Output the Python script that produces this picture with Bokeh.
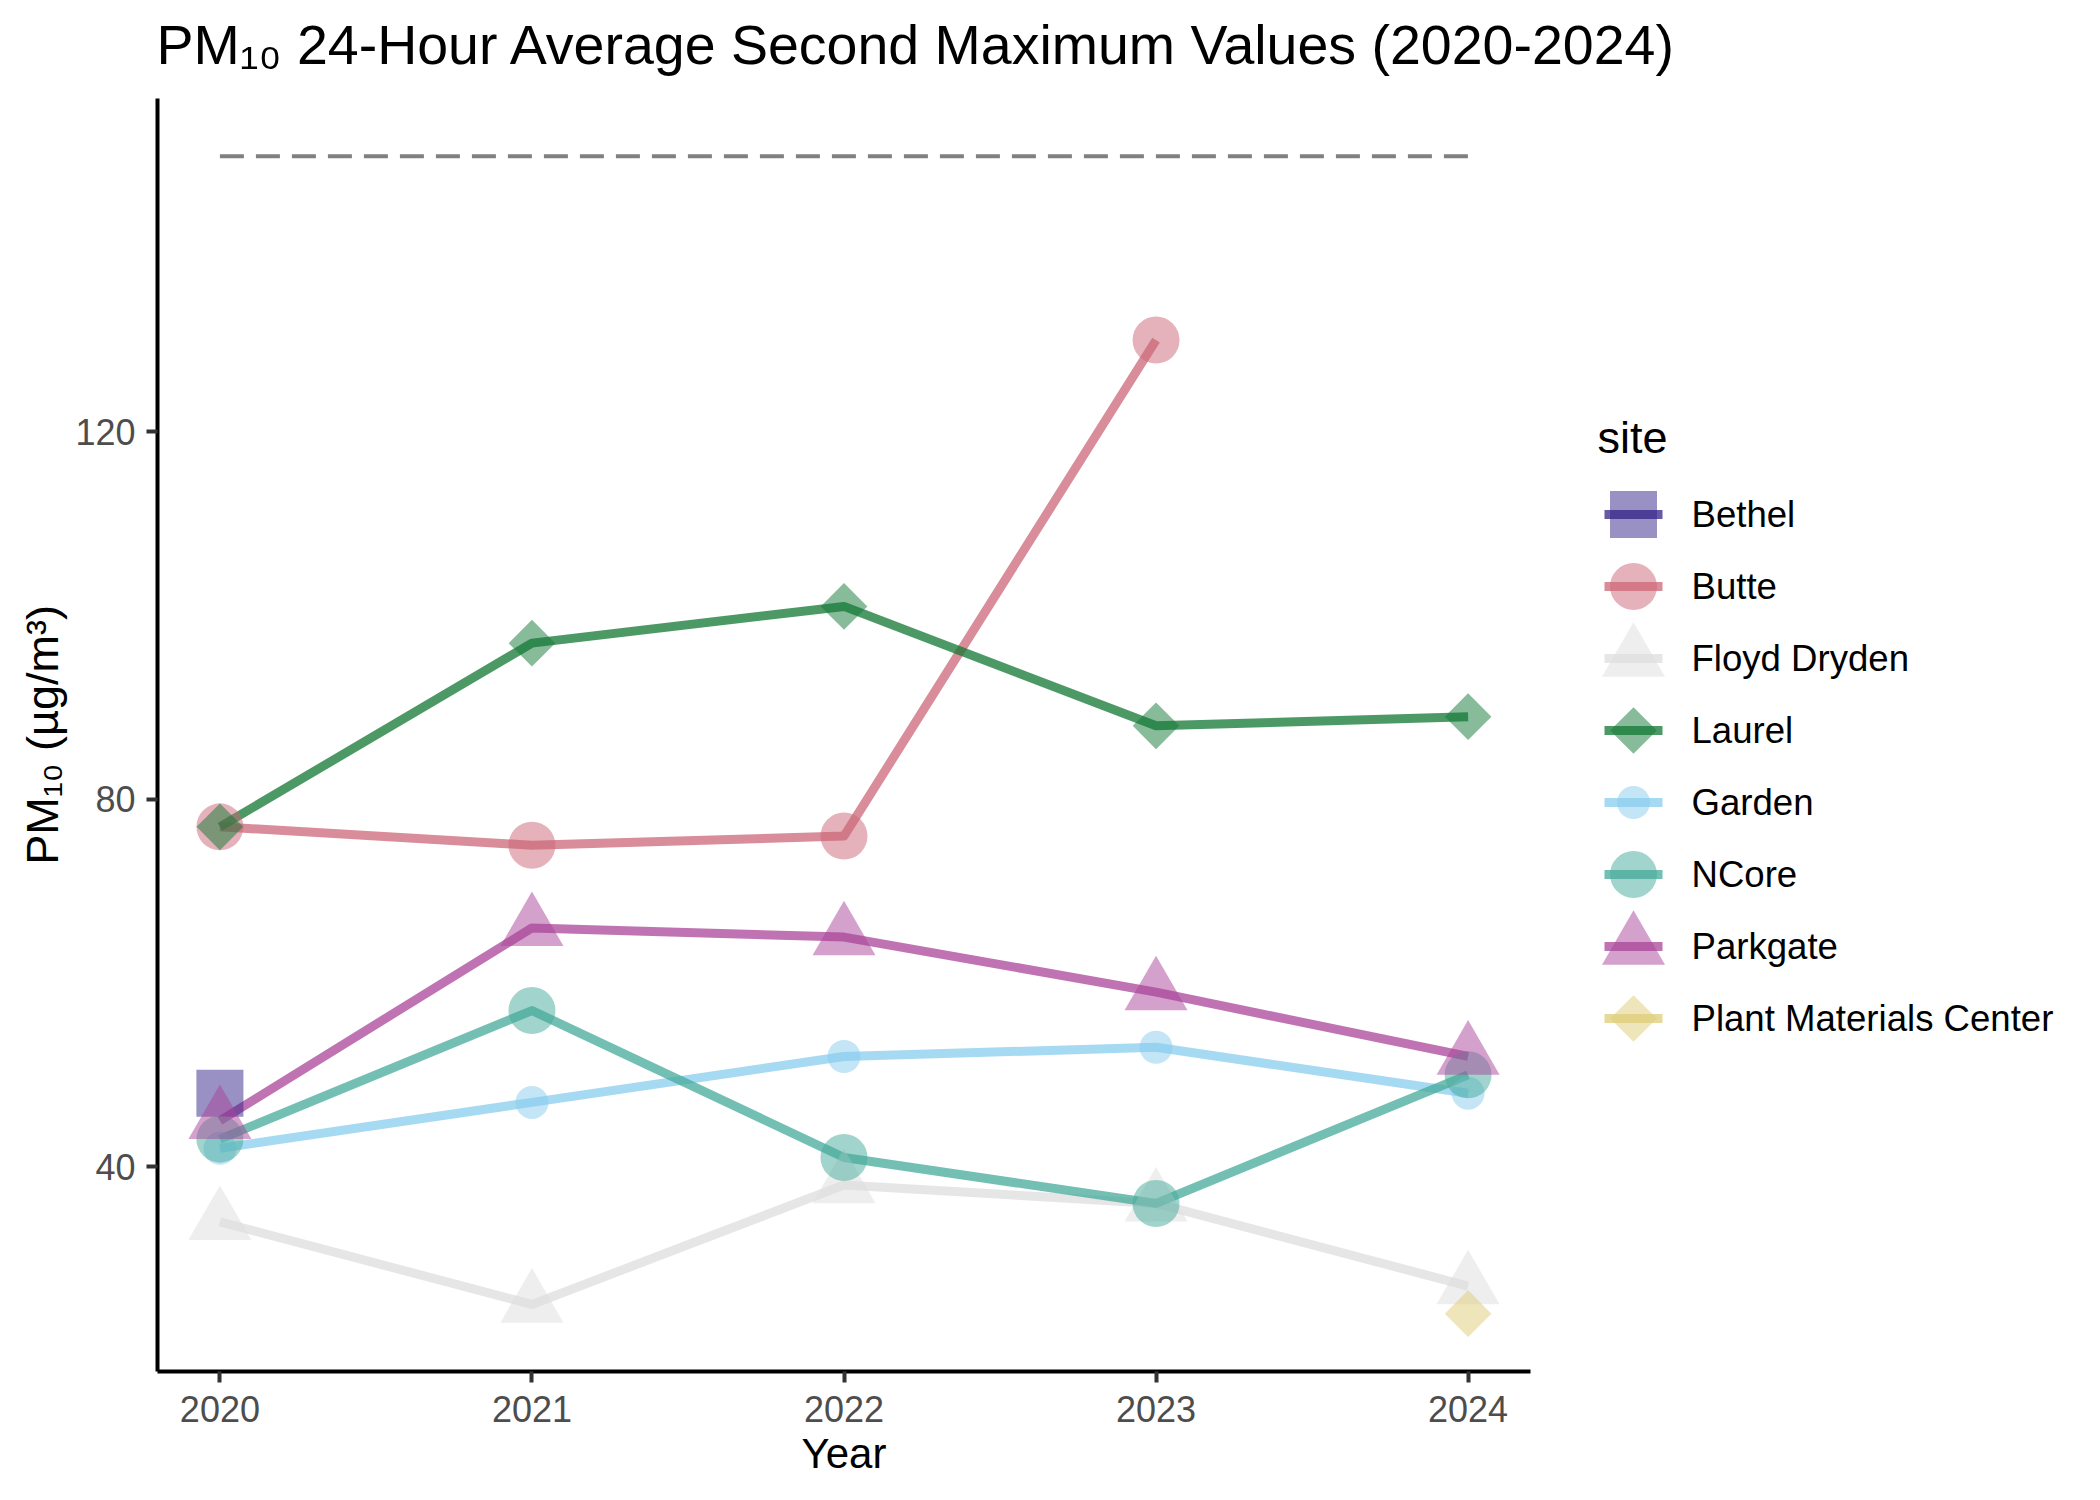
import math
from bokeh.plotting import figure
from bokeh.models import Range1d, FixedTicker, ColumnDataSource, Label
from bokeh.layouts import row, column
from bokeh.embed import file_html
from bokeh.resources import INLINE
from bokeh.core.properties import value

# ---------------- data ----------------
years = [2020, 2021, 2022, 2023, 2024]
sites = ["Bethel", "Butte", "Floyd Dryden", "Laurel", "Garden", "NCore",
         "Parkgate", "Plant Materials Center"]
NA = float("nan")
bethel = [48, NA, NA, NA, NA]
butte = [77, 75, 76, 130, NA]
floyd_dryden = [34, 25, 38, 36, 27]
laurel = [77, 97, 101, 88, 89]
garden = [42, 47, 52, 53, 48]
ncore = [43, 57, 41, 36, 50]
parkgate = [45, 66, 65, 59, 52]
plant_materials_center = [NA, NA, NA, NA, 24]
standard = 150  # 24-hour PM10 standard (dashed line)
y_ticks = [40, 80, 120]

series = {
    "Bethel": bethel, "Butte": butte, "Floyd Dryden": floyd_dryden,
    "Laurel": laurel, "Garden": garden, "NCore": ncore,
    "Parkgate": parkgate, "Plant Materials Center": plant_materials_center,
}

# ---------------- styles ----------------
colors = {
    "Bethel": "#332288", "Butte": "#CC6677", "Floyd Dryden": "#DDDDDD",
    "Laurel": "#117733", "Garden": "#88CCEE", "NCore": "#44AA99",
    "Parkgate": "#AA4499", "Plant Materials Center": "#DDCC77",
}
markers = {
    "Bethel": "square", "Butte": "circle", "Floyd Dryden": "triangle",
    "Laurel": "square", "Garden": "circle", "NCore": "circle",
    "Parkgate": "triangle", "Plant Materials Center": "square",
}
sizes = {
    "Bethel": 47, "Butte": 47, "Floyd Dryden": 63, "Laurel": 33,
    "Garden": 33, "NCore": 47, "Parkgate": 63, "Plant Materials Center": 33,
}
angles = {s: (math.pi / 4 if s in ("Laurel", "Plant Materials Center") else 0.0) for s in sites}
LINE_W = 9
LINE_ALPHA = 0.75
PT_ALPHA = 0.5
FONT = "Liberation Sans"

TOTAL_W, TOTAL_H = 2084, 1484
TITLE_H = 90
BODY_H = TOTAL_H - TITLE_H
MAIN_W = 1560
LEFT_B, RIGHT_B, TOP_B, BOTTOM_B = 157, 30, 8, 113
FRAME_H = BODY_H - TOP_B - BOTTOM_B

# ---------------- title strip ----------------
tfig = figure(width=TOTAL_W, height=TITLE_H, x_range=Range1d(0, TOTAL_W - LEFT_B),
              y_range=Range1d(0, TITLE_H), output_backend="svg",
              toolbar_location=None, min_border_left=LEFT_B, min_border_right=0,
              min_border_top=0, min_border_bottom=0)
tfig.axis.visible = False
tfig.grid.visible = False
tfig.outline_line_color = None
tfig.add_layout(Label(x=-1, y=46,
                      text="PM\u2081\u2080 24-Hour Average Second Maximum Values (2020-2024)",
                      text_font=FONT, text_font_size="55.5px", text_color="black",
                      text_baseline="alphabetic", text_align="left"))

# ---------------- main plot ----------------
all_vals = [v for s in sites for v in series[s] if not math.isnan(v)] + [standard]
ymin, ymax = min(all_vals), max(all_vals)
ypad = 0.05 * (ymax - ymin)
xpad = 0.05 * (max(years) - min(years))

p = figure(width=MAIN_W, height=BODY_H,
           x_range=Range1d(min(years) - xpad, max(years) + xpad),
           y_range=Range1d(ymin - ypad, ymax + ypad),
           output_backend="svg", toolbar_location=None,
           min_border_left=LEFT_B, min_border_right=RIGHT_B,
           min_border_top=TOP_B, min_border_bottom=BOTTOM_B)
p.outline_line_color = None
p.grid.visible = False

for ax in (p.xaxis[0], p.yaxis[0]):
    ax.axis_line_color = "black"
    ax.axis_line_width = 4
    ax.major_tick_line_color = "#333333"
    ax.major_tick_line_width = 4
    ax.major_tick_in = 0
    ax.major_tick_out = 11
    ax.minor_tick_line_color = None
    ax.major_label_text_font = FONT
    ax.major_label_text_font_size = "36px"
    ax.major_label_text_color = "#4D4D4D"
    ax.axis_label_text_font = FONT
    ax.axis_label_text_font_size = "42px"
    ax.axis_label_text_font_style = "normal"
    ax.axis_label_text_color = "black"

p.xaxis.ticker = FixedTicker(ticks=years)
p.xaxis.axis_label = "Year"
p.xaxis.major_label_standoff = 13
p.xaxis.axis_label_standoff = 5
p.yaxis.ticker = FixedTicker(ticks=y_ticks)
p.yaxis.axis_label = "PM\u2081\u2080 (\u00b5g/m\u00b3)"
p.yaxis.axis_label_text_font_size = "45px"
p.yaxis.major_label_standoff = 11
p.yaxis.axis_label_standoff = 4

# standard line
p.line(x=[min(years), max(years)], y=[standard, standard], line_color="#808080",
       line_width=4, line_dash="24 12")

for s in sites:
    p.line(x=years, y=series[s], line_color=colors[s], line_width=LINE_W,
           line_alpha=LINE_ALPHA, line_join="round")
for s in sites:
    p.scatter(x=years, y=series[s], marker=markers[s], size=sizes[s],
              angle=angles[s], fill_color=colors[s], fill_alpha=PT_ALPHA,
              line_color=None)

# ---------------- legend panel ----------------
LEG_W = TOTAL_W - MAIN_W
ROW_PX = 72          # spacing of legend rows
FIRST_ROW_PX = 416   # first row centre below the top of the plot panel
KEY_X = 73
LABEL_X = 131
TITLE_X = 37
TITLE_BASE_PX = 339
top_val = -FIRST_ROW_PX / ROW_PX
bot_val = top_val + FRAME_H / ROW_PX

leg = figure(width=LEG_W, height=BODY_H, x_range=Range1d(0, LEG_W),
             y_range=Range1d(bot_val, top_val),
             output_backend="svg", toolbar_location=None,
             min_border_left=0, min_border_right=0,
             min_border_top=TOP_B, min_border_bottom=BOTTOM_B)
leg.axis.visible = False
leg.grid.visible = False
leg.outline_line_color = None

rank = list(range(len(sites)))
lsrc = ColumnDataSource(dict(
    site=sites,
    rank=rank,
    kx=[KEY_X] * len(sites),
    lx=[LABEL_X] * len(sites),
    marker=[markers[s] for s in sites],
    size=[sizes[s] for s in sites],
    angle=[angles[s] for s in sites],
    color=[colors[s] for s in sites],
))
leg.scatter(x="kx", y="rank", marker="marker", size="size", angle="angle",
            fill_color="color", fill_alpha=PT_ALPHA, line_color=None, source=lsrc)
leg.scatter(x="kx", y="rank", marker="dash", size=58, line_width=LINE_W,
            line_color="color", line_alpha=LINE_ALPHA, source=lsrc)
leg.text(x="lx", y="rank", text="site", source=lsrc, text_font=value(FONT),
         text_font_size="36.6px", text_baseline="middle", text_align="left",
         text_color="black")
leg.add_layout(Label(x=TITLE_X, y=top_val + TITLE_BASE_PX / ROW_PX, text="site",
                     text_font=FONT, text_font_size="45px", text_color="black",
                     text_baseline="alphabetic", text_align="left"))

layout = column(tfig, row(p, leg))
open("out.html", "w").write(file_html(layout, INLINE))
